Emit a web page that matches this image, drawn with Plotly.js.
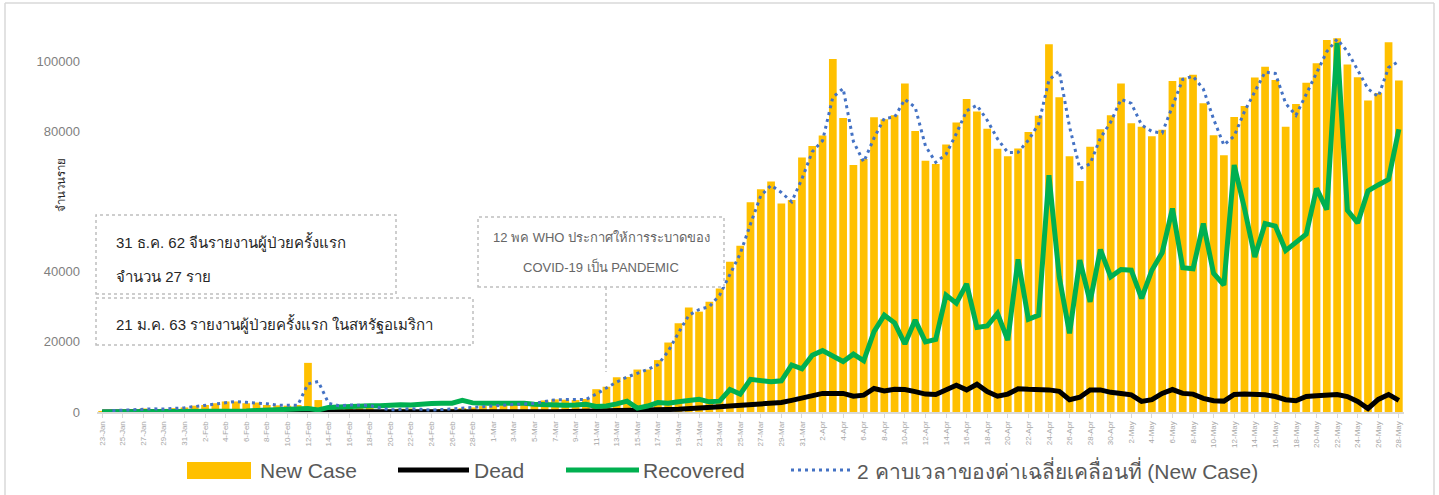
<!DOCTYPE html>
<html>
<head>
<meta charset="utf-8">
<script src="https://cdn.plot.ly/plotly-3.0.1.min.js"></script>
<style>
  html, body { margin: 0; padding: 0; background: #ffffff; }
  #chart { width: 1439px; height: 495px; }
</style>
</head>
<body>
<div id="chart"></div>
<script>
// ---- categories (daily, 23-Jan .. 28-May) ----
const monthSpans = [["Jan", 23, 31], ["Feb", 1, 29], ["Mar", 1, 31], ["Apr", 1, 30], ["May", 1, 28]];
const dates = [];
monthSpans.forEach(([m, a, b]) => { for (let d = a; d <= b; d++) dates.push(d + "-" + m); });
const tickLabels = dates.filter((_, i) => i % 2 === 0);

// ---- series values ----
const newCase = [
  300, 450, 600, 700, 1000, 800, 900, 1100, 1300, 1800,
  2000, 2500, 3000, 3000, 2500, 2700, 2000, 1900, 1800, 2000,
  14000, 3400, 1600, 2000, 2000, 1900, 1800, 600, 600, 900,
  1000, 500, 600, 800, 900, 1100, 1300, 1700, 1800, 1900,
  2400, 2200, 2700, 3300, 3600, 3500, 3400, 3700,
  6500, 7200, 9900, 10000, 12100, 12100, 14800, 19800, 25300, 29800,
  28600, 31400, 35200, 42800, 47400, 59800, 63500, 65700, 59400, 60400,
  72500, 75800, 78800, 100600, 83800, 70400, 72100, 84000, 83400, 84600,
  93600, 80100, 71600, 70700, 76200, 82500, 89200, 85600, 80700, 75000,
  72900, 75100, 79800, 84400, 104800, 89700, 72900, 65800, 75600, 80600,
  84600, 93600, 82300, 81300, 78600, 80400, 94300, 95300, 96100, 88000,
  78900, 73200, 84100, 87200, 95300, 98400, 94600, 81300, 87800, 93800,
  99400, 106000, 106500, 99000, 95400, 88800, 90900, 105400, 94500
];
const dead = [
  10, 20, 20, 30, 30, 40, 40, 40, 50, 60,
  60, 70, 70, 80, 90, 90, 90, 100, 100, 110,
  250, 120, 140, 140, 140, 100, 110, 130, 120, 110,
  100, 150, 80, 70, 70, 70, 60, 70, 60, 70,
  80, 80, 100, 100, 100, 230, 200, 250,
  300, 350, 350, 400, 450, 500, 600, 700, 800, 900,
  1000, 1300, 1500, 1700, 1900, 2200, 2500, 2800, 2700, 3300,
  4000, 4500, 5300, 5300, 5300, 4500, 4800, 6700, 6000, 6500,
  6400, 5800, 5100, 5000, 6300, 7600, 6300, 7900, 5800, 4500,
  5100, 6600, 6450, 6450, 6300, 5900, 3500, 4200, 6300, 6300,
  5600, 5300, 4900, 3000, 3500, 5300, 6400, 5300, 5100, 3900,
  3200, 3100, 5000, 5100, 5100, 4900, 4400, 3500, 3200, 4400,
  4600, 4800, 5000, 4400, 3000, 1000, 3600, 5000, 3300
];
const recovered = [
  0, 0, 10, 20, 30, 40, 50, 60, 70, 80,
  120, 150, 200, 250, 300, 400, 500, 550, 600, 700,
  1000, 600, 1300, 1400, 1600, 1700, 1800, 1800, 2000, 2100,
  2000, 2300, 2400, 2500, 2500, 3300, 2600, 2500, 2500, 2700,
  2600, 2500, 2200, 2000, 2100, 1900, 2000, 2200,
  1600, 1700, 2300, 3100, 1100, 1700, 2700, 2500, 2900, 3400,
  3600, 2900, 3100, 6400, 5100, 9300, 8800, 8600, 8900, 13400,
  12300, 16200, 17500, 16000, 14400, 16500, 14600, 22900, 27600, 25400,
  19400, 26200, 20000, 20700, 33300, 31000, 36500, 24100, 24500, 28100,
  20500, 43500, 26400, 27600, 67500, 38500, 22400, 43300, 31400, 46300,
  38500, 40600, 40400, 32400, 40400, 45400, 58000, 41100, 40800, 53700,
  39500, 36200, 70400, 58000, 44200, 53700, 53000, 46000, 48300, 50700,
  63700, 57700, 105200, 57500, 53900, 63000, 64700, 66300, 80600
];
// 2-period moving-average trendline of New Case (as the chart's legend defines it)
const movingAvg = newCase.map((v, i) => i === 0 ? null : (newCase[i - 1] + v) / 2);

const yTickVals = [0, 20000, 40000, 80000, 100000];

const seriesNames = ["New Case", "Dead", "Recovered", "2 คาบเวลาของค่าเฉลี่ยเคลื่อนที่ (New Case)"];
const yTitle = "จำนวนราย";
const note1a = "31 ธ.ค. 62 จีนรายงานผู้ป่วยครั้งแรก";
const note1b = "จำนวน 27 ราย";
const note2 = "21 ม.ค. 63 รายงานผู้ป่วยครั้งแรก ในสหรัฐอเมริกา";
const note3a = "12 พค WHO ประกาศให้การระบาดของ";
const note3b = "COVID-19 เป็น PANDEMIC";

// ---- layout helpers (pixel -> paper) ----
const L = 97, R = 1404, T = 26, B = 412;
const X = p => (p - L) / (R - L);
const Y = p => (B - p) / (B - T);

const FONT = "Liberation Sans, Arial, Noto Sans, sans-serif";
const COL = { bar: "#FFC000", dead: "#000000", rec: "#00B050", ma: "#4472C4" };

const traces = [
  { type: "bar", x: dates, y: newCase, name: seriesNames[0], marker: { color: COL.bar }, showlegend: false },
  { type: "scatter", mode: "lines", x: dates, y: dead, name: seriesNames[1], line: { color: COL.dead, width: 5 }, showlegend: false },
  { type: "scatter", mode: "lines", x: dates, y: recovered, name: seriesNames[2], line: { color: COL.rec, width: 5 }, showlegend: false },
  { type: "scatter", mode: "lines", x: dates, y: movingAvg, name: seriesNames[3], line: { color: COL.ma, width: 3, dash: "3px,4px" }, connectgaps: false, showlegend: false }
];

const boxLine = { color: "#bfbfbf", width: 1.5, dash: "dot" };
const shapes = [
  // outer frame
  { type: "line", xref: "paper", yref: "paper", x0: X(5), x1: X(5), y0: Y(3), y1: Y(500), line: { color: "#d9d9d9", width: 1.5 } },
  { type: "line", xref: "paper", yref: "paper", x0: X(5), x1: X(1434), y0: Y(3), y1: Y(3), line: { color: "#d9d9d9", width: 1.5 } },
  { type: "line", xref: "paper", yref: "paper", x0: X(1434), x1: X(1434), y0: Y(3), y1: Y(500), line: { color: "#d9d9d9", width: 1.5 } },
  // note boxes
  { type: "rect", xref: "paper", yref: "paper", x0: X(96), x1: X(396), y0: Y(294), y1: Y(215), line: boxLine, fillcolor: "rgba(255,255,255,1)", layer: "above" },
  { type: "rect", xref: "paper", yref: "paper", x0: X(96), x1: X(473), y0: Y(345), y1: Y(298), line: boxLine, fillcolor: "rgba(255,255,255,1)", layer: "above" },
  { type: "rect", xref: "paper", yref: "paper", x0: X(478), x1: X(724), y0: Y(287), y1: Y(217), line: boxLine, fillcolor: "rgba(255,255,255,1)", layer: "above" },
  { type: "line", xref: "paper", yref: "paper", x0: X(606), x1: X(606), y0: Y(287), y1: Y(372), line: boxLine },
  // custom legend swatches
  { type: "rect", xref: "paper", yref: "paper", x0: X(187), x1: X(251), y0: Y(479), y1: Y(462), fillcolor: COL.bar, line: { width: 0 } },
  { type: "line", xref: "paper", yref: "paper", x0: X(398), x1: X(469), y0: Y(470), y1: Y(470), line: { color: COL.dead, width: 5 } },
  { type: "line", xref: "paper", yref: "paper", x0: X(566), x1: X(639), y0: Y(470), y1: Y(470), line: { color: COL.rec, width: 5 } },
  { type: "line", xref: "paper", yref: "paper", x0: X(791), x1: X(852), y0: Y(470), y1: Y(470), line: { color: COL.ma, width: 3, dash: "3px,4px" } }
];

const ann = (text, px, py, size, color, extra) => Object.assign({
  text, xref: "paper", yref: "paper", x: X(px), y: Y(py), xanchor: "left", yanchor: "middle",
  showarrow: false, font: { family: FONT, size, color }
}, extra || {});

const annotations = [
  ann(yTitle, 61, 185, 11.5, "#262626", { textangle: -90, xanchor: "center" }),
  ann(note1a, 114, 242, 15, "#262626"),
  ann(note1b, 114, 276, 15, "#262626"),
  ann(note2, 114, 324, 15, "#262626"),
  ann(note3a, 601, 238, 13, "#666666", { xanchor: "center" }),
  ann(note3b, 601, 266, 13, "#666666", { xanchor: "center" }),
  ann(seriesNames[0], 258, 470, 21, "#595959"),
  ann(seriesNames[1], 472, 470, 21, "#595959"),
  ann(seriesNames[2], 641, 470, 21, "#595959"),
  ann(seriesNames[3], 855, 470, 21, "#595959")
];

const layout = {
  width: 1439, height: 495,
  margin: { l: L, r: 1439 - R, t: T, b: 495 - B, pad: 0 },
  paper_bgcolor: "#ffffff", plot_bgcolor: "#ffffff",
  font: { family: FONT },
  showlegend: false,
  bargap: 0.25,
  xaxis: {
    type: "category", range: [-0.5, dates.length - 0.5],
    tickmode: "array", tickvals: tickLabels, ticktext: tickLabels,
    tickangle: -90, tickfont: { family: FONT, size: 8, color: "#a6a6a6" },
    showline: true, linecolor: "#d9d9d9", linewidth: 2,
    ticks: "outside", ticklen: 4, tickcolor: "#d9d9d9",
    showgrid: false, zeroline: false, fixedrange: true
  },
  yaxis: {
    range: [0, 110000], tickmode: "array", tickvals: yTickVals, ticktext: yTickVals.map(String),
    tickfont: { family: FONT, size: 13, color: "#7f7f7f" },
    showgrid: false, zeroline: false, showline: false, ticks: "",
    ticklabelstandoff: 16, fixedrange: true
  },
  shapes, annotations
};

Plotly.newPlot("chart", traces, layout, { displayModeBar: false, staticPlot: true });
</script>
</body>
</html>
